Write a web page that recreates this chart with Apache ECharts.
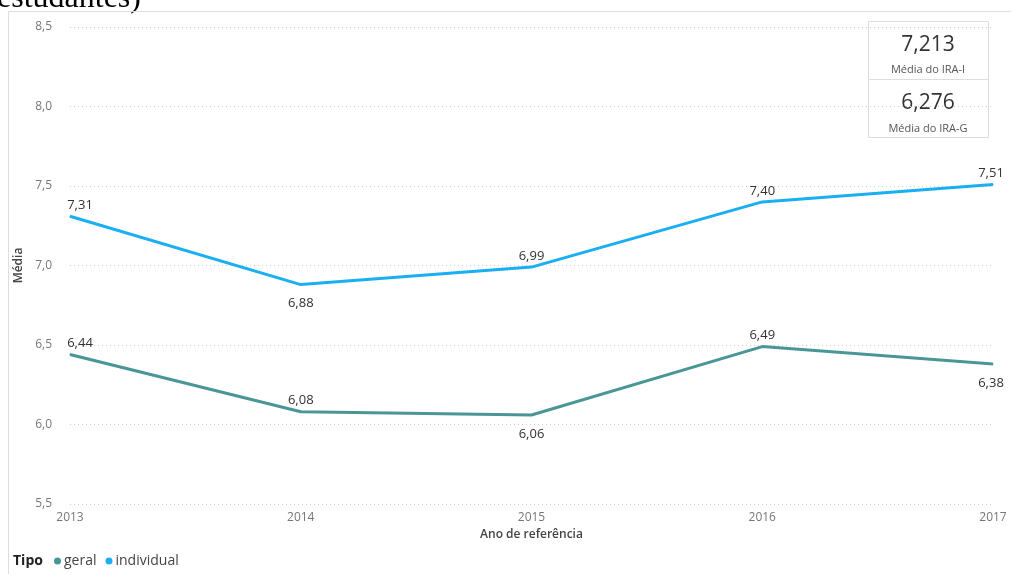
<!DOCTYPE html>
<html><head><meta charset="utf-8">
<script src="https://cdn.jsdelivr.net/npm/echarts@6/dist/echarts.min.js"></script>
<style>html,body{margin:0;padding:0;background:#fff}#c{width:1011px;height:574px}</style>
</head><body><div id="c"></div>
<script>
const categories = ['2013','2014','2015','2016','2017'];
const geral = [6.44, 6.08, 6.06, 6.49, 6.38];
const individual = [7.31, 6.88, 6.99, 7.40, 7.51];
const geralLabelPos = ['top','top','bottom','top','bottom'];
const individualLabelPos = ['top','bottom','top','top','top'];
const kpiValues = ['7,213', '6,276'];
const kpiLabels = ['Média do IRA-I', 'Média do IRA-G'];
const seriesNames = ['geral', 'individual'];

const font = '"Open Sans", "Noto Sans", sans-serif';
const fmt = v => v.toFixed(2).replace('.', ',');
const colors = ['#4A9696', '#1AAFF2'];

function mk(vals, pos) {
  return vals.map((v, i) => ({
    value: v,
    label: {
      position: pos[i],
      distance: pos[i] === 'bottom' ? 12 : 4,
      offset: [i === 0 ? 10 : (i === vals.length - 1 ? -2 : 0), 0]
    }
  }));
}

const chart = echarts.init(document.getElementById('c'));
chart.setOption({
  animation: false,
  textStyle: { fontFamily: font },
  grid: { left: 70, right: 18, top: 27, bottom: 70 },
  xAxis: {
    type: 'category', data: categories, boundaryGap: false,
    name: 'Ano de referência', nameLocation: 'middle', nameGap: 21,
    nameTextStyle: { color: '#444', fontSize: 12, fontWeight: 600, fontFamily: font },
    axisLine: { show: false }, axisTick: { show: false },
    axisLabel: { color: '#777', fontSize: 12, margin: 8, fontFamily: font }
  },
  yAxis: {
    type: 'value', min: 5.5, max: 8.5, interval: 0.5,
    name: 'Média', nameLocation: 'middle', nameGap: 35,
    nameTextStyle: { color: '#444', fontSize: 12, fontWeight: 600, fontFamily: font },
    axisLabel: { color: '#777', fontSize: 12, margin: 18, fontFamily: font,
      formatter: v => v.toFixed(1).replace('.', ',') },
    splitLine: { lineStyle: { color: '#ccc', type: [1, 3], width: 1 } }
  },
  legend: {
    left: 49, bottom: 1, itemWidth: 7, itemHeight: 7, itemGap: 9,
    icon: 'circle',
    textStyle: { color: '#444', fontSize: 14, fontFamily: font, padding: [0, 0, 0, -2] },
    data: seriesNames
  },
  series: [
    { name: seriesNames[0], type: 'line', data: mk(geral, geralLabelPos),
      symbol: 'circle', symbolSize: 1, showSymbol: true, color: colors[0], lineStyle: { width: 3 },
      label: { show: true, color: '#333', fontSize: 13, formatter: p => fmt(p.value) } },
    { name: seriesNames[1], type: 'line', data: mk(individual, individualLabelPos),
      symbol: 'circle', symbolSize: 1, showSymbol: true, color: colors[1], lineStyle: { width: 3 },
      label: { show: true, color: '#333', fontSize: 13, formatter: p => fmt(p.value) } }
  ],
  graphic: [
    { type: 'text', x: -3, y: 15, style: { text: 'estudantes)', font: '32px "Liberation Serif", serif', fill: '#000', verticalAlign: 'bottom' } },
    { type: 'line', shape: { x1: 8.5, y1: 11.5, x2: 1011, y2: 11.5 }, style: { stroke: '#ddd', lineWidth: 1 } },
    { type: 'line', shape: { x1: 8.5, y1: 11.5, x2: 8.5, y2: 574 }, style: { stroke: '#ddd', lineWidth: 1 } },
    { type: 'text', x: 13, y: 561, style: { text: 'Tipo', font: 'bold 14px ' + font, fill: '#222', verticalAlign: 'middle' } },
    { type: 'rect', shape: { x: 868.5, y: 21.5, width: 120, height: 58 }, style: { fill: '#fff', stroke: '#ddd', lineWidth: 1 } },
    { type: 'rect', shape: { x: 868.5, y: 79.5, width: 120, height: 58 }, style: { fill: '#fff', stroke: '#ddd', lineWidth: 1 } },
    { type: 'text', x: 928, y: 45, style: { text: kpiValues[0], font: '500 21px ' + font, fill: '#333', align: 'center', verticalAlign: 'middle' } },
    { type: 'text', x: 928, y: 70, style: { text: kpiLabels[0], font: '11px ' + font, fill: '#555', align: 'center', verticalAlign: 'middle' } },
    { type: 'text', x: 928, y: 103, style: { text: kpiValues[1], font: '500 21px ' + font, fill: '#333', align: 'center', verticalAlign: 'middle' } },
    { type: 'text', x: 928, y: 129, style: { text: kpiLabels[1], font: '11px ' + font, fill: '#555', align: 'center', verticalAlign: 'middle' } }
  ]
});
</script></body></html>
